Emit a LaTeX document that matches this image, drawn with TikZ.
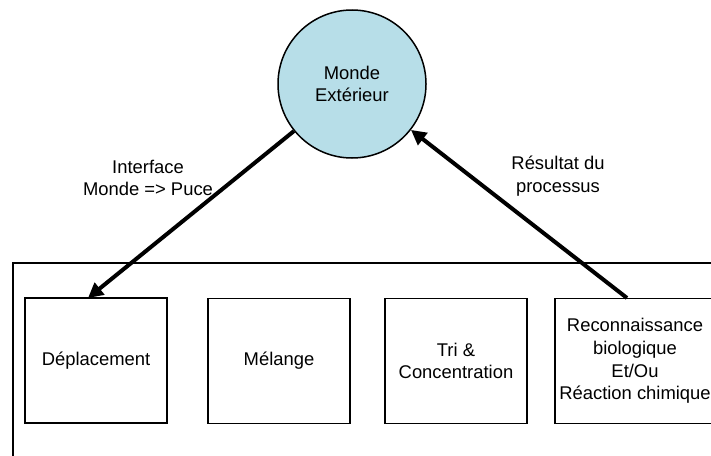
\documentclass[tikz,border=0pt]{standalone}
\usepackage{fontspec}
\setmainfont{Liberation Sans}
\usetikzlibrary{arrows.meta}
\definecolor{bleuclair}{HTML}{B7DEE8}
\begin{document}
\begin{tikzpicture}[x=1pt, y=-1pt, every node/.style={font=\fontsize{18.4}{22.6}\selectfont, align=center}]
			\tikzstyle{bloc}=[draw,line width=1.5pt,minimum width=142pt,minimum height=125pt,inner sep=1pt]
			\tikzstyle{fleche}=[line width=4pt,-{Triangle[length=15pt,width=15pt]}]
			\clip (0,0) rectangle (711,455);
			\node[circle,draw,line width=1.5pt,fill=bleuclair,minimum size=148pt](monde) at (352,84){Monde\\Extérieur};
			
			% la puce
			\draw[line width=1.2pt] (13,263) rectangle (740,490);
			\node[bloc](depl) at (96,360.5){Déplacement};
			\node[bloc](mel) at (279,361){Mélange};
			\node[bloc](tri) at (456,361){Tri \&\\Concentration};
			\node[bloc,minimum width=160pt](reco) at (635,361){Reconnaissance\\biologique\\Et/Ou\\Réaction chimique};
			
			\coordinate (in-depl) at (88,298);
			\coordinate (out-reco) at (627,298);
			
			\node[](l-in) at (148,178){Interface\\Monde => Puce};
			\node[](l-out) at (558,176){Résultat du\\processus};
			
			\draw[fleche] (monde) -- (in-depl);
			\draw[fleche] (out-reco) -- (monde);
			\end{tikzpicture}
\end{document}
